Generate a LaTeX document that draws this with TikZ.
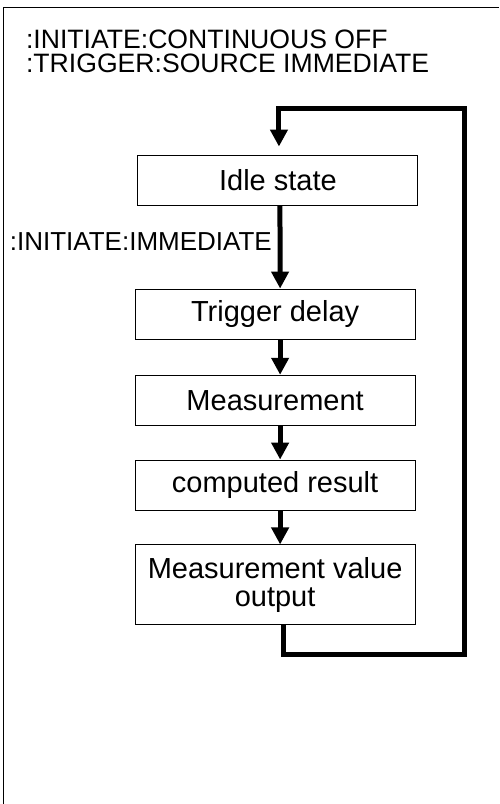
\documentclass[tikz,border=0pt]{standalone}
\usepackage{fontspec}
\setmainfont{Liberation Sans}
\usepackage{tikz}
\usetikzlibrary{arrows.meta}
\tikzset{
  stagebox/.style={draw, line width=1pt, minimum width=9.84cm, minimum height=1.78cm,
                   align=center, inner sep=0pt, font=\fontsize{29}{28.5}\selectfont},
  cmdlbl/.style={inner sep=0pt, font=\fontsize{26}{24.5}\selectfont},
  flow/.style={-{Triangle[length=17pt,width=17pt]}, line width=5pt},
  backloop/.style={-{Triangle[length=17pt,width=17pt]}, line width=5pt, line join=miter},
  frame/.style={line width=1.5pt},
}

\begin{document}
\begin{tikzpicture}

  \useasboundingbox (0,0) rectangle (17.54,-28.26);

  % Open frame (left and top)
  \draw[frame] (0.12,-28.26) -- (0.12,-0.26) -- (17.54,-0.26);

  % Settings
  \node[cmdlbl, font=\fontsize{26.6}{24.5}\selectfont, anchor=base west] (cont) at (0.91,-1.69) {:INITIATE:CONTINUOUS OFF};
  \node[cmdlbl, font=\fontsize{26.6}{24.5}\selectfont, anchor=base west] (src)  at (0.91,-2.55) {:TRIGGER:SOURCE IMMEDIATE};

  % Stages
  \node[stagebox] (idle) at (9.77,-6.34)  {Idle state};
  \node[stagebox, minimum height=1.76cm] (trig) at (9.67,-11.04) {Trigger delay};
  \node[stagebox] (meas) at (9.67,-14.08) {Measurement};
  \node[stagebox, minimum height=1.76cm] (calc) at (9.67,-17.05) {computed result};
  \node[stagebox, minimum height=2.81cm] (out)  at (9.67,-20.56) {Measurement value\\output};

  % Sequence
  \draw[flow] ([xshift=2pt]idle.south) -- ([xshift=5pt]trig.north);
  \node[cmdlbl, anchor=base east] (init) at (9.56,-8.82) {:INITIATE:IMMEDIATE};
  \draw[flow] ([xshift=5pt]trig.south) -- ([xshift=5pt]meas.north);
  \draw[flow] ([xshift=5pt]meas.south) -- ([xshift=5pt]calc.north);
  \draw[flow] ([xshift=5pt]calc.south) -- ([xshift=5pt]out.north);

  % Back to idle
  \coordinate (loopbr) at (16.31,-22.99);
  \coordinate (looptr) at (16.31,-3.83);
  \draw[backloop, shorten >=8pt] ([xshift=8pt]out.south) |- (loopbr) -- (looptr)
    -| ([xshift=1pt]idle.north);

\end{tikzpicture}
\end{document}
